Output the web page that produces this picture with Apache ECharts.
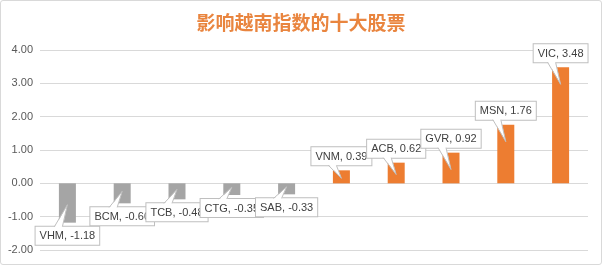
<!DOCTYPE html>
<html><head><meta charset="utf-8">
<script src="https://cdn.jsdelivr.net/npm/echarts@6/dist/echarts.min.js"></script>
<style>html,body{margin:0;padding:0;background:#fff}#c{width:600px;height:263px;border:1px solid #d9d9d9;border-radius:3px}</style>
</head><body><div id="c"></div>
<script>
const titleText = '影响越南指数的十大股票';
const categories = ['VHM','BCM','TCB','CTG','SAB','VNM','ACB','GVR','MSN','VIC'];
const values = [-1.18,-0.60,-0.48,-0.35,-0.33,0.39,0.62,0.92,1.76,3.48];
const yTicks = {min:-2, max:4, interval:1};

const chart = echarts.init(document.getElementById('c'));
chart.setOption({
  animation:false,
  title:{text:titleText,left:'center',top:7,textStyle:{color:'#E9853F',fontSize:19,fontWeight:'bold',fontFamily:'Noto Sans CJK SC'}},
  grid:{left:39,right:13,top:49,bottom:14,containLabel:false},
  xAxis:{type:'category',data:categories,axisLine:{show:false},axisTick:{show:false},axisLabel:{show:false}},
  yAxis:{type:'value',min:yTicks.min,max:yTicks.max,interval:yTicks.interval,
    axisLine:{show:false},axisTick:{show:false},
    axisLabel:{formatter:v=>v.toFixed(2),color:'#595959',fontSize:11,fontFamily:'Liberation Sans',margin:7},
    splitLine:{lineStyle:{color:'#d9d9d9'}}},
  series:[{
    type:'bar',barWidth:17,z:2,
    data:values.map(v=>({value:v,itemStyle:{color:v<0?'#A5A5A5':'#ED7D31'},
      label:{position:v<0?'bottom':'top',distance:v<0?4:5}})),
    label:{show:true,formatter:p=>p.name+', '+p.value.toFixed(2),color:'#404040',fontSize:11,
      fontFamily:'Liberation Sans',backgroundColor:'#fff',borderColor:'#bfbfbf',borderWidth:1,padding:[4,4,3,4]}
  },{
    type:'custom',z:3,silent:true,
    data:values.map((v,i)=>[i,v]),
    renderItem:function(params,api){
      const i=api.value(0), v=api.value(1);
      const end=api.coord([i,v]), zero=api.coord([i,0]);
      const cx=end[0];
      let edge, tipY, inner;
      if(v>0){ edge=end[1]-5; tipY=Math.min(edge+22,(edge+zero[1])/2+4); inner=edge-1; }
      else { edge=end[1]+4; tipY=Math.max(edge-22,(edge+zero[1])/2-4); inner=edge+1; }
      const a=[cx-13,edge], b=[cx-5,edge], t=[cx,tipY];
      return {type:'group',children:[
        {type:'polygon',shape:{points:[[cx-13,inner],[cx-5,inner],t]},style:{fill:'#fff'}},
        {type:'polyline',shape:{points:[a,t,b]},style:{stroke:'#bfbfbf',lineWidth:1,fill:null}}
      ]};
    }
  }]
});
</script></body></html>
